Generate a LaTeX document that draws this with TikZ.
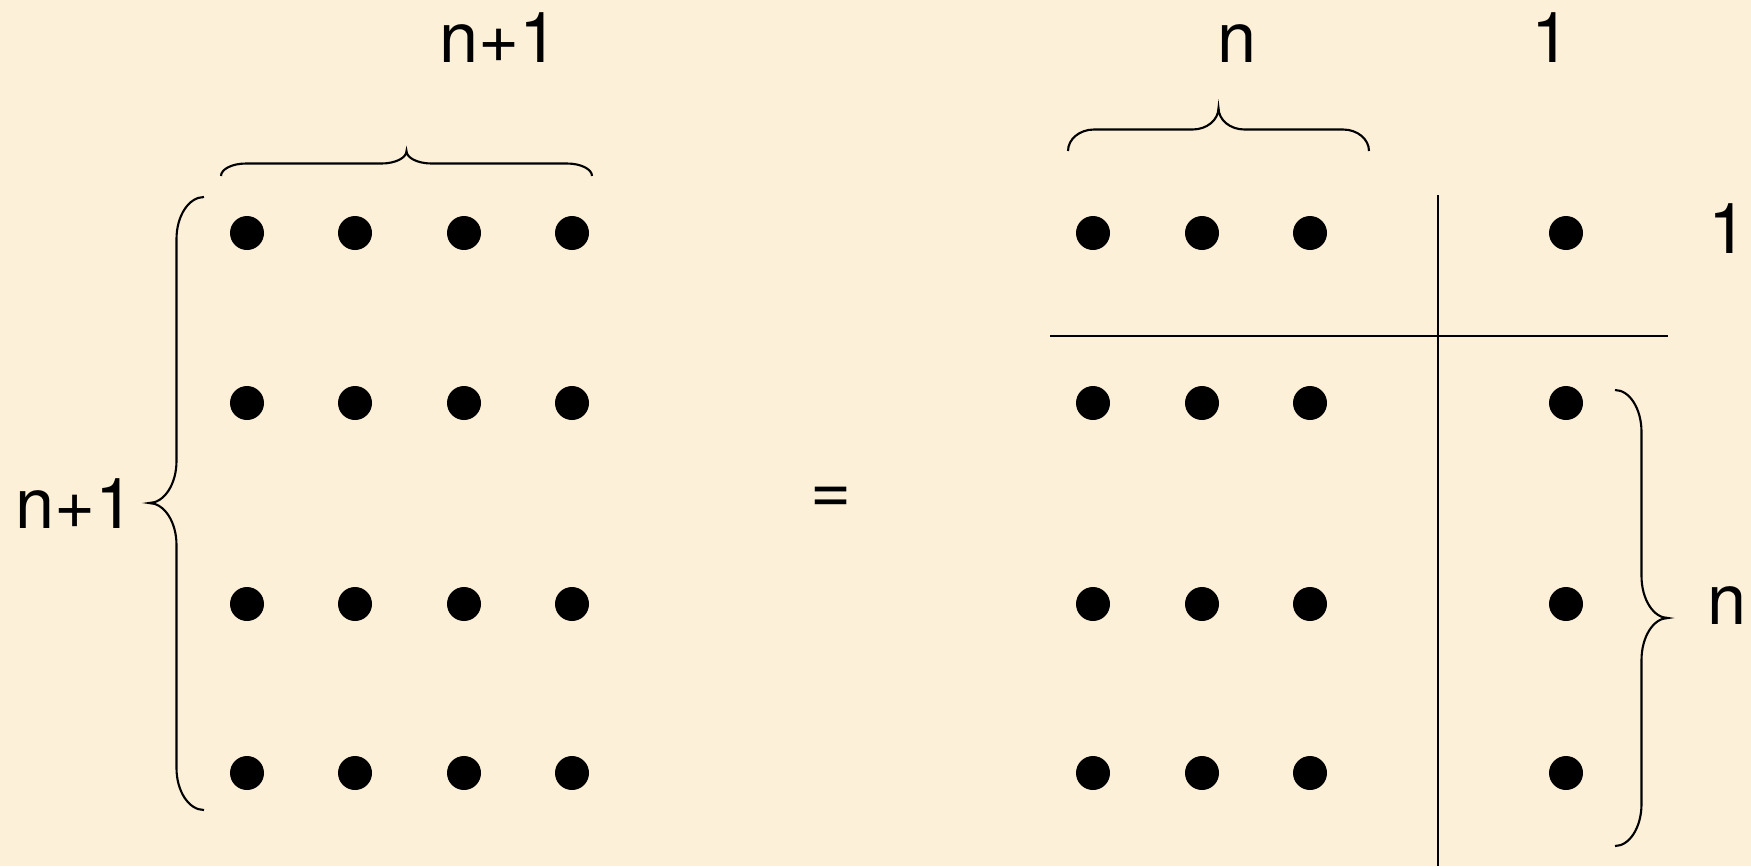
\documentclass[tikz,border=0pt]{standalone}
\usepackage{fontspec}
\setmainfont{TeX Gyre Heros}
\definecolor{parch}{RGB}{252,240,217}
\begin{document}
\begin{tikzpicture}[x=0.01cm,y=-0.01cm,
  lab/.style={font=\fontsize{20}{22}\selectfont,inner sep=0pt},
  brc/.style={line width=0.6pt},
  sep/.style={line width=0.7pt}]
  \fill[parch] (0,0) rectangle (1751,866);
  \useasboundingbox (0,0) rectangle (1751,866);
  % left square of dots
  \foreach \x in {247,355,464,572}
    \foreach \y in {233,403,604,773}
      \fill (\x,\y) circle (17);
  % right square, split
  \foreach \x in {1093,1202,1310,1566}
    \foreach \y in {233,403,604,773}
      \fill (\x,\y) circle (17);
  \draw[sep] (1438,195) -- (1438,866);
  \draw[sep] (1050,336) -- (1668,336);
  % braces
  \draw[brc] (221,176) .. controls (221,169.1) and (232.2,163.5) .. (246,163.5)
    -- (381.5,163.5) .. controls (395.3,163.5) and (406.5,157.9) .. (406.5,151)
    .. controls (406.5,157.9) and (417.7,163.5) .. (431.5,163.5)
    -- (567,163.5) .. controls (580.8,163.5) and (592,169.1) .. (592,176);
  \draw[brc] (204,197) .. controls (188.8,197) and (176.5,215.8) .. (176.5,239)
    -- (176.5,461) .. controls (176.5,484.2) and (164.2,503) .. (149,503)
    .. controls (164.2,503) and (176.5,521.8) .. (176.5,545)
    -- (176.5,768) .. controls (176.5,791.2) and (188.8,810) .. (204,810);
  \draw[brc] (1068,151) .. controls (1068,139.1) and (1079.6,129.5) .. (1094,129.5)
    -- (1192.5,129.5) .. controls (1206.9,129.5) and (1218.5,119.9) .. (1218.5,108)
    .. controls (1218.5,119.9) and (1230.1,129.5) .. (1244.5,129.5)
    -- (1343,129.5) .. controls (1357.4,129.5) and (1369,139.1) .. (1369,151);
  \draw[brc] (1615,390) .. controls (1629.6,390) and (1641.5,408.8) .. (1641.5,432)
    -- (1641.5,576) .. controls (1641.5,599.2) and (1653.4,618) .. (1668,618)
    .. controls (1653.4,618) and (1641.5,636.8) .. (1641.5,660)
    -- (1641.5,804) .. controls (1641.5,827.2) and (1629.6,846) .. (1615,846);
  % labels
  \node[lab] (topL) at (499,38) {n+1};
  \node[lab] (sideL) at (75,504) {n+1};
  \node[lab] (eq) at (831,500) {=};
  \node[lab] (topN) at (1237,44) {n};
  \node[lab] (topOne) at (1551,38) {1};
  \node[lab] (sideOne) at (1728,229) {1};
  \node[lab] (sideN) at (1727,606) {n};
\end{tikzpicture}
\end{document}
